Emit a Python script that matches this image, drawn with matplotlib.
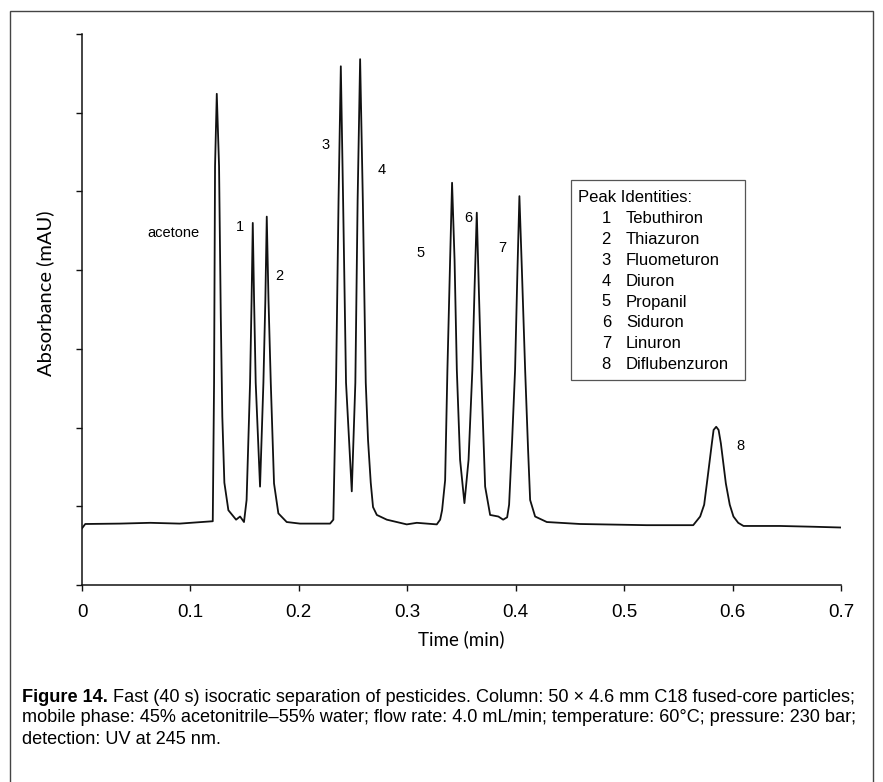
#!/usr/bin/env python3
"""
Fast isocratic separation of pesticides -- chromatogram redraw.

Output:
    out.png
"""

import matplotlib
matplotlib.use("Agg")
import matplotlib.pyplot as plt
from matplotlib.patches import Rectangle

# ── Data ─────────────────────────────────────────────────────────────────────
time_min = [
    0.000, 0.003, 0.035, 0.063, 0.090, 0.1206,
    0.1218, 0.1227, 0.1243, 0.1264, 0.1280, 0.1294, 0.1313, 0.1350, 0.1421, 0.1458, 0.1494,
    0.1518, 0.1550, 0.1564, 0.1575, 0.1587, 0.1602, 0.1642,
    0.1673, 0.1691, 0.1704, 0.1720, 0.1741, 0.1771, 0.1811, 0.1888, 0.2011, 0.2288, 0.2318,
    0.2343, 0.2366, 0.2387, 0.2408, 0.2435, 0.2488,
    0.2521, 0.2542, 0.2565, 0.2590, 0.2617, 0.2638, 0.2663, 0.2684, 0.2719, 0.2811, 0.2995,
    0.3088, 0.3272, 0.3303,
    0.3321, 0.3349, 0.3370, 0.3395, 0.3413, 0.3436, 0.3457, 0.3487, 0.3527,
    0.3565, 0.3600, 0.3620, 0.3641, 0.3660, 0.3681, 0.3718, 0.3764, 0.3840, 0.3884,
    0.3921, 0.3939, 0.3967, 0.3994, 0.4016, 0.4034, 0.4057, 0.4087, 0.4114, 0.4133, 0.4179,
    0.4287, 0.4594, 0.5209, 0.5637,
    0.5701, 0.5738, 0.5763, 0.5809, 0.5825, 0.5849, 0.5871, 0.5892, 0.5938, 0.5974, 0.6008,
    0.6052, 0.6101, 0.6439, 0.6746, 0.7008,
]
absorbance = [
    0.72, 0.775, 0.78, 0.79, 0.78, 0.81,
    2.57, 5.32, 6.24, 5.32, 3.41, 2.14, 1.30, 0.95, 0.83, 0.87, 0.80,
    1.08, 2.57, 3.62, 4.60, 3.62, 2.57, 1.25,
    2.57, 3.62, 4.68, 3.62, 2.57, 1.29, 0.91, 0.80, 0.78, 0.78, 0.83,
    2.57, 4.89, 6.59, 4.89, 2.57, 1.19,
    2.57, 4.89, 6.68, 4.89, 2.57, 1.84, 1.30, 0.99, 0.89, 0.83, 0.77,
    0.79, 0.77, 0.83,
    0.95, 1.33, 2.73, 4.13, 5.11, 4.13, 2.73, 1.59, 1.04,
    1.59, 2.73, 3.75, 4.73, 3.75, 2.73, 1.25, 0.89, 0.87, 0.83,
    0.86, 1.02, 1.84, 2.73, 4.00, 4.94, 4.00, 2.73, 1.72, 1.08, 0.87,
    0.80, 0.775, 0.76, 0.76,
    0.87, 1.02, 1.29, 1.80, 1.97, 2.01, 1.97, 1.80, 1.29, 1.02, 0.87,
    0.79, 0.75, 0.75, 0.74, 0.73,
]

peak_labels = ["acetone", "1", "2", "3", "4", "5", "6", "7", "8"]
peak_label_t = [0.084, 0.1458, 0.1817, 0.2248, 0.2765, 0.3118, 0.3564, 0.3877, 0.6070]
peak_label_a = [4.47, 4.55, 3.92, 5.59, 5.27, 4.22, 4.66, 4.28, 1.77]

peak_numbers = ["1", "2", "3", "4", "5", "6", "7", "8"]
peak_names = ["Tebuthiron", "Thiazuron", "Fluometuron", "Diuron",
              "Propanil", "Siduron", "Linuron", "Diflubenzuron"]

x_ticks = [0, 0.1, 0.2, 0.3, 0.4, 0.5, 0.6, 0.7]
x_tick_labels = ["0", "0.1", "0.2", "0.3", "0.4", "0.5", "0.6", "0.7"]
y_ticks = [0, 1, 2, 3, 4, 5, 6, 7]

caption_bold = "Figure 14."
caption_lines = [
    " Fast (40 s) isocratic separation of pesticides. Column: 50 \u00d7 4.6 mm C18 fused-core particles;",
    "mobile phase: 45% acetonitrile\u201355% water; flow rate: 4.0 mL/min; temperature: 60\u00b0C; pressure: 230 bar;",
    "detection: UV at 245 nm.",
]

# ── Config ───────────────────────────────────────────────────────────────────
W, H = 883, 782
ARIAL = ["Liberation Sans", "DejaVu Sans"]
LABEL_FONT = ["Lato", "DejaVu Sans"]
CAPTION_FONT = ["Liberation Sans", "DejaVu Sans"]


def px_x(x):
    return x / W


def px_y(y):
    return 1 - y / H


# ── Plot ─────────────────────────────────────────────────────────────────────
fig = plt.figure(figsize=(W / 100, H / 100), dpi=100)
fig.patch.set_facecolor("white")

# outer frame of the figure panel (bottom edge runs off the image)
fig.patches.append(Rectangle((px_x(10), -0.02), px_x(863), px_y(11) + 0.02,
                             transform=fig.transFigure, fill=False,
                             edgecolor="#444444", linewidth=1.0))

ax = fig.add_axes([px_x(82), px_y(585), px_x(759), (585 - 34) / H])
ax.plot(time_min, absorbance, color="#111111", linewidth=1.3)

ax.set_xlim(0, 0.7)
ax.set_ylim(0, 7)
ax.set_xticks(x_ticks)
ax.set_xticklabels(x_tick_labels, fontsize=13.5, family=ARIAL)
ax.set_yticks(y_ticks)
ax.set_yticklabels([])
ax.tick_params(direction="out", length=4.5, width=1.0, color="#111111")
ax.tick_params(axis="x", pad=9)
for side in ("top", "right"):
    ax.spines[side].set_visible(False)
for side in ("left", "bottom"):
    ax.spines[side].set_linewidth(1.1)
    ax.spines[side].set_color("#111111")

ax.set_xlabel("Time (min)", fontsize=13.5, family=LABEL_FONT)
ax.xaxis.set_label_coords(0.5, -0.083)
ax.set_ylabel("Absorbance (mAU)", fontsize=14.5, family=LABEL_FONT)
ax.yaxis.set_label_coords(-0.037, 0.53)

# peak labels
for lab, t, a in zip(peak_labels, peak_label_t, peak_label_a):
    ax.text(t, a, lab, ha="center", va="center", fontsize=10.5, family=ARIAL)

# peak identity box
ax.add_patch(Rectangle((px_x(571), px_y(380)), px_x(174), 200 / H,
                       transform=fig.transFigure, fill=False,
                       edgecolor="#555555", linewidth=0.9, zorder=3))
row_y = 197.5
fig.text(px_x(578), px_y(row_y), "Peak Identities:", ha="left", va="center",
         fontsize=12, family=ARIAL)
for i, (num, name) in enumerate(zip(peak_numbers, peak_names)):
    yy = px_y(row_y + 20.9 * (i + 1))
    fig.text(px_x(611), yy, num, ha="right", va="center", fontsize=12, family=ARIAL)
    fig.text(px_x(626), yy, name, ha="left", va="center", fontsize=12, family=ARIAL)

# caption
cap_size = 13.05
t_bold = fig.text(px_x(22), px_y(697), caption_bold, ha="left", va="center",
                  fontsize=cap_size, fontweight="bold", family=CAPTION_FONT)
fig.canvas.draw()
bb = t_bold.get_window_extent()
fig.text(bb.x1 / W, px_y(697), caption_lines[0], ha="left", va="center",
         fontsize=cap_size, family=CAPTION_FONT)
for i, line in enumerate(caption_lines[1:]):
    fig.text(px_x(22), px_y(718 + 21 * i), line, ha="left", va="center",
             fontsize=cap_size, family=CAPTION_FONT)

plt.savefig("out.png", dpi=100)
